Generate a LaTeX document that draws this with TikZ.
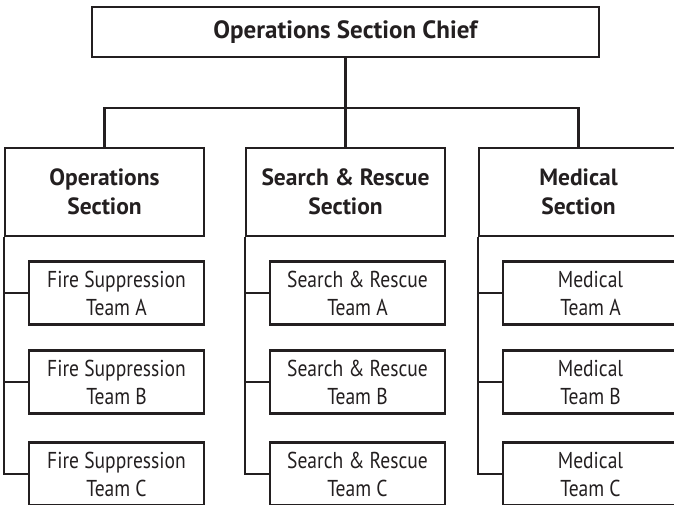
\documentclass[tikz,border=0pt]{standalone}
\usepackage{fontspec}
\setmainfont{PT Sans}[FakeStretch=0.85]
\newfontfamily\headfont{PT Sans}
\usetikzlibrary{positioning}
\definecolor{ink}{HTML}{231F20}

\begin{document}
\begin{tikzpicture}[x=1pt, y=-1pt, line width=2.5pt, color=ink,
  chiefbox/.style={draw, inner sep=0pt, minimum width=507pt, minimum height=50pt,
    font=\headfont\fontsize{25}{28}\selectfont\bfseries},
  sectbox/.style={draw, inner sep=0pt, minimum width=199pt, minimum height=88pt,
    align=center, font=\headfont\fontsize{23.5}{28.5}\selectfont\bfseries},
  teambox/.style={draw, inner sep=0pt, minimum width=175pt, minimum height=63pt,
    align=center, font=\fontsize{23}{28}\selectfont}]
\useasboundingbox (0,0) rectangle (674,504);
\clip (0,0) rectangle (674,504);
% chief
\node[chiefbox] (chief) at (345.5,32) {Operations Section Chief};
\coordinate (bar) at (0,108);
% sections
\node[sectbox] (ops) at (104.5,192) {Operations\\Section};
\node[sectbox] (sar) at (345.5,192) {Search \& Rescue\\Section};
\node[sectbox] (med) at (578.5,192) {Medical\\Section};
\draw (chief.south) -- (sar.north);
\draw (ops.north) -- (ops.north |- bar) -- (med.north |- bar) -- (med.north);
% Operations
\node[teambox] (opsA) at (116.5,293) {Fire Suppression\\Team A};
\node[teambox] (opsB) at (116.5,382) {Fire Suppression\\Team B};
\node[teambox] (opsC) at (116.5,474) {Fire Suppression\\Team C};
\draw (ops.south west) |- (opsC.west);
\draw (opsA.west -| ops.south west) -- (opsA.west);
\draw (opsB.west -| ops.south west) -- (opsB.west);
% Search & Rescue
\node[teambox] (sarA) at (357.5,293) {Search \& Rescue\\Team A};
\node[teambox] (sarB) at (357.5,382) {Search \& Rescue\\Team B};
\node[teambox] (sarC) at (357.5,474) {Search \& Rescue\\Team C};
\draw (sar.south west) |- (sarC.west);
\draw (sarA.west -| sar.south west) -- (sarA.west);
\draw (sarB.west -| sar.south west) -- (sarB.west);
% Medical
\node[teambox] (medA) at (590.5,293) {Medical\\Team A};
\node[teambox] (medB) at (590.5,382) {Medical\\Team B};
\node[teambox] (medC) at (590.5,474) {Medical\\Team C};
\draw (med.south west) |- (medC.west);
\draw (medA.west -| med.south west) -- (medA.west);
\draw (medB.west -| med.south west) -- (medB.west);
\end{tikzpicture}
\end{document}
